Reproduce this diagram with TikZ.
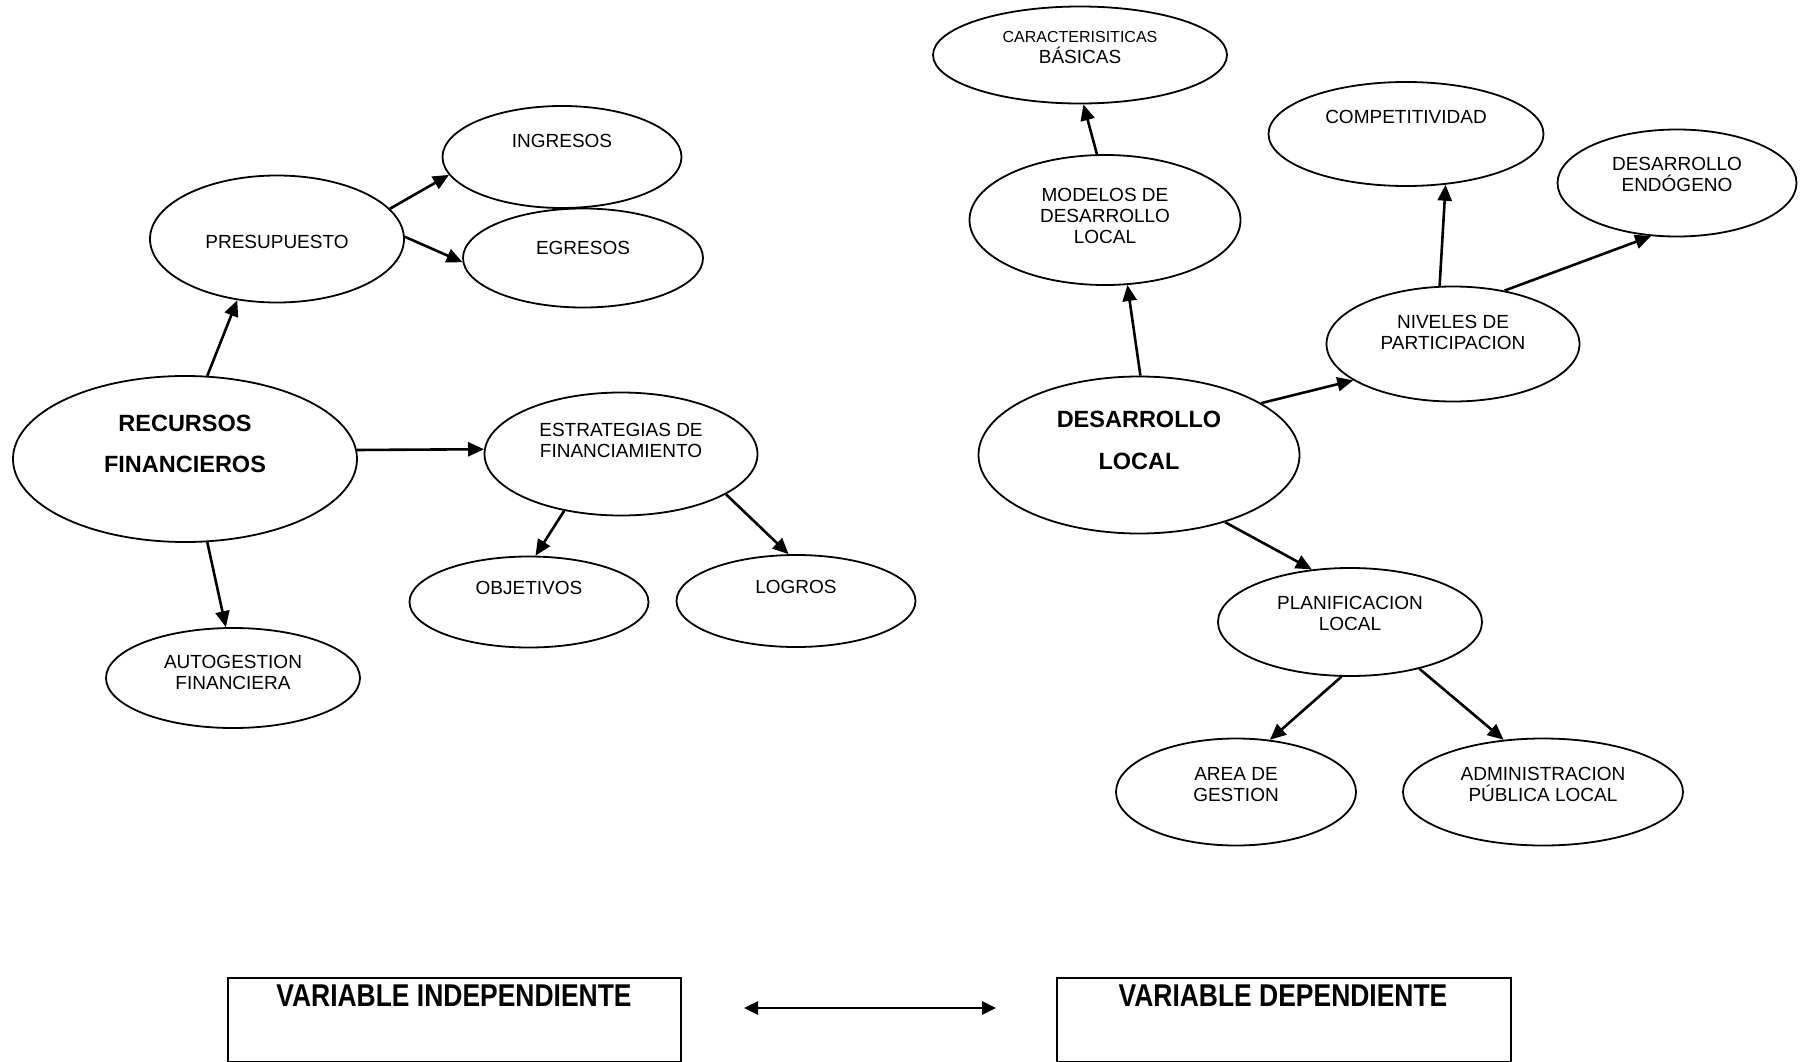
\documentclass[tikz,border=0pt]{standalone}
\usepackage{fontspec}
\setmainfont{Liberation Sans}
\newfontfamily\narrowfont[FakeStretch=0.84]{Liberation Sans}
\usetikzlibrary{shapes.geometric,arrows.meta}

\begin{document}
\begin{tikzpicture}[x=1pt,y=-1pt]

\newcommand{\bubble}[8]{%
  \node[oval,minimum width=#5pt,minimum height=#6pt] (#2) at (#3,#4) {};
  \node[#1] (#2t) at (#3,#7) {#8};}
\tikzstyle{oval}=[ellipse,draw,line width=1.8pt,inner sep=0pt];
\tikzstyle{txt}=[align=center,inner sep=0pt,font=\fontsize{19}{21}\selectfont];
\tikzstyle{big}=[align=center,inner sep=0pt,font=\bfseries\fontsize{23.5}{41.5}\selectfont];
\tikzstyle{varbox}=[draw,line width=1.6pt,anchor=north west,minimum height=84pt];
\tikzstyle{vartxt}=[inner sep=0pt,font=\narrowfont\bfseries\fontsize{31.5}{34}\selectfont];
\tikzstyle{arr}=[line width=2.6pt,-{Triangle[length=16pt,width=14pt]}];
\tikzstyle{arr2}=[line width=2.6pt,{Triangle[length=14pt,width=13pt]}-{Triangle[length=14pt,width=13pt]}];

\useasboundingbox (0,0) rectangle (1809,1062);

% variable independiente
\bubble{big}{rec}{185}{459}{344}{166}{444}{RECURSOS\\FINANCIEROS}
\bubble{txt}{pres}{277}{239}{254}{127}{242}{PRESUPUESTO}
\bubble{txt}{ingr}{562}{157}{239}{102}{141}{INGRESOS}
\bubble{txt}{egr}{583}{258}{240}{99}{248}{EGRESOS}
\bubble{txt}{est}{621}{454}{273}{123}{440}{ESTRATEGIAS DE\\FINANCIAMIENTO}
\bubble{txt}{obj}{529}{602}{239}{91}{588}{OBJETIVOS}
\bubble{txt}{log}{796}{601}{239}{92}{587}{LOGROS}
\bubble{txt}{auto}{233}{678}{254}{100}{672}{AUTOGESTION\\FINANCIERA}

% variable dependiente
\bubble{big}{dl}{1139}{455}{321}{157}{440.5}{DESARROLLO\\LOCAL}
\bubble{txt}{car}{1080}{55}{294}{97}{48}{{\fontsize{16}{18}\selectfont CARACTERISITICAS}\\BÁSICAS}
\bubble{txt}{mod}{1105}{220}{271}{130}{216}{MODELOS DE\\DESARROLLO\\LOCAL}
\bubble{txt}{comp}{1406}{134}{275}{104}{117}{COMPETITIVIDAD}
\bubble{txt}{endo}{1677}{183}{239}{107}{174.5}{DESARROLLO\\ENDÓGENO}
\bubble{txt}{niv}{1453}{344}{253}{115}{332.5}{NIVELES DE\\PARTICIPACION}
\bubble{txt}{plan}{1350}{622}{264}{108}{613.5}{PLANIFICACION\\LOCAL}
\bubble{txt}{area}{1236}{792}{240}{107}{784.5}{AREA DE\\GESTION}
\bubble{txt}{adm}{1543}{792}{280}{107}{784.5}{ADMINISTRACION\\PÚBLICA LOCAL}

\path[arr]
  (rec.75) edge (pres.237)
  (pres.15) edge (ingr.189)
  (pres.1) edge (egr.182)
  (rec.3) edge (est.178)
  (rec.-75) edge (auto.98)
  (est.225) edge (obj.82)
  (est.-21) edge (log.99);

\path[arr]
  (mod.97) edge (car.-86)
  (dl.89) edge (mod.-71)
  (niv.103) edge (comp.-52)
  (niv.46) edge (endo.-116)
  (dl.23) edge (niv.200)
  (dl.-38) edge (plan.126)
  (plan.-99) edge (area.57)
  (plan.-34) edge (adm.127);

% cuadros de abajo
\node[varbox,minimum width=453pt] (vi) at (227,977) {};
\node[vartxt] (vit) at (454,996) {VARIABLE INDEPENDIENTE};
\node[varbox,minimum width=454pt] (vd) at (1056,977) {};
\node[vartxt] (vdt) at (1283,996) {VARIABLE DEPENDIENTE};
\coordinate (la) at (744,1008);
\coordinate (lb) at (996,1008);
\draw[arr2] (la) -- (lb);

\end{tikzpicture}
\end{document}
